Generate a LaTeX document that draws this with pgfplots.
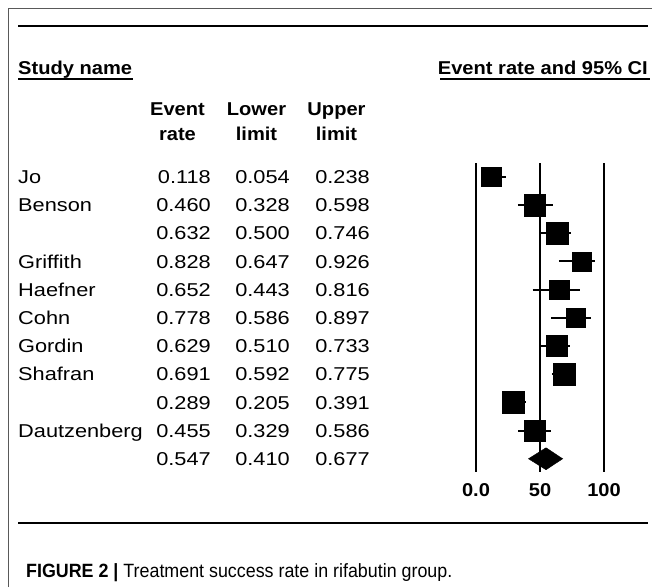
\documentclass[border=0pt]{standalone}
\usepackage{fontspec}
\usepackage{pgfplots}
\usepackage{pgfplotstable}
\pgfplotsset{compat=1.18}
\setmainfont{Liberation Sans}[FakeStretch=1.17, BoldFeatures={FakeStretch=1.08}]
\newfontfamily\capfont{Liberation Sans}[FakeStretch=0.93]

\pgfplotstableread{
row r lo hi s
0 0.118 0.054 0.238 9.8
1 0.460 0.328 0.598 10.8
2 0.632 0.500 0.746 10.8
3 0.828 0.647 0.926 9.4
4 0.652 0.443 0.816 9.8
5 0.778 0.586 0.897 9.6
6 0.629 0.510 0.733 10.5
7 0.691 0.592 0.775 10.8
8 0.289 0.205 0.391 10.8
9 0.455 0.329 0.586 10.5
}\studies

\begin{document}
\begin{tikzpicture}[x=1pt,y=1pt,every node/.style={font=\fontsize{18.6}{22}\selectfont, inner sep=0pt}]
\useasboundingbox (0pt,0pt) rectangle (652pt,-587pt);
% frame
\draw[gray!70!black, line width=1pt] (8,-587) -- (8,-8) -- (652,-8);
% rules
\draw[black, line width=2pt] (18,-26) -- (648,-26);
\draw[black, line width=2pt] (18,-523) -- (648,-523);
% headings
\node[anchor=base west, font=\fontsize{18.6}{22}\selectfont\bfseries] at (18,-74) {Study name};
\draw[line width=1.3pt] (18,-79) -- (133,-79);
\node[anchor=base east, font=\fontsize{18.6}{22}\selectfont\bfseries] at (648,-74) {Event rate and 95\% CI};
\draw[line width=1.3pt] (440,-79) -- (650,-79);
\foreach \cx/\a/\b in {177.5/Event/rate, 256.5/Lower/limit, 336.5/Upper/limit}{
  \node[anchor=base, font=\fontsize{18.6}{22}\selectfont\bfseries] at (\cx,-115) {\a};
  \node[anchor=base, font=\fontsize{18.6}{22}\selectfont\bfseries] at (\cx,-140) {\b};
}
% table rows
\foreach \i/\nm/\ev/\lo/\hi in {0/Jo/0.118/0.054/0.238, 1/Benson/0.460/0.328/0.598, 2//0.632/0.500/0.746, 3/Griffith/0.828/0.647/0.926, 4/Haefner/0.652/0.443/0.816, 5/Cohn/0.778/0.586/0.897, 6/Gordin/0.629/0.510/0.733, 7/Shafran/0.691/0.592/0.775, 8//0.289/0.205/0.391, 9/Dautzenberg/0.455/0.329/0.586, 10//0.547/0.410/0.677}{
  \pgfmathsetmacro{\yy}{-183.5-28.2*\i}
  \node[anchor=base west] at (18,\yy) {\nm};
  \node[anchor=base east] at (211,\yy) {\ev};
  \node[anchor=base east] at (290,\yy) {\lo};
  \node[anchor=base east] at (370,\yy) {\hi};
}
% forest plot
\begin{axis}[at={(476pt,-163pt)}, anchor=north west, scale only axis, width=128pt, height=309pt,
  xmin=0, xmax=1, ymin=-0.486, ymax=10.47, y dir=reverse, hide axis, clip=false]
\addplot[black, line width=1.8pt] coordinates {(0,-0.486) (0,10.47)};
\addplot[black, line width=1.8pt] coordinates {(0.5,-0.486) (0.5,10.47)};
\addplot[black, line width=1.8pt] coordinates {(1,-0.486) (1,10.47)};
% confidence intervals
\addplot[black, line width=2pt, mark=none, unbounded coords=jump] coordinates {
(0.054,0) (0.238,0) (nan,nan)
(0.328,1) (0.598,1) (nan,nan)
(0.500,2) (0.746,2) (nan,nan)
(0.647,3) (0.926,3) (nan,nan)
(0.443,4) (0.816,4) (nan,nan)
(0.586,5) (0.897,5) (nan,nan)
(0.510,6) (0.733,6) (nan,nan)
(0.592,7) (0.775,7) (nan,nan)
(0.205,8) (0.391,8) (nan,nan)
(0.329,9) (0.586,9)
};
\addplot[scatter, only marks, mark=square*, draw=black, fill=black,
  scatter/use mapped color={draw=black, fill=black},
  visualization depends on={\thisrow{s} \as \msize},
  scatter/@pre marker code/.append style={/tikz/mark size=\msize}]
  table[x=r, y=row] {\studies};
\addplot[black, fill=black] coordinates {(0.410,10) (0.547,9.61) (0.677,10) (0.547,10.39)} -- cycle;
\node[anchor=base, font=\fontsize{18.6}{22}\selectfont\bfseries] at (axis cs:0,11.35) {0.0};
\node[anchor=base, font=\fontsize{18.6}{22}\selectfont\bfseries] at (axis cs:0.5,11.35) {50};
\node[anchor=base, font=\fontsize{18.6}{22}\selectfont\bfseries] at (axis cs:1,11.35) {100};
\end{axis}
% caption
\node[anchor=base west, font=\fontsize{19.2}{22}\selectfont\capfont] at (26,-577) {\textbf{FIGURE 2 |} Treatment success rate in rifabutin group.};
\end{tikzpicture}
\end{document}
